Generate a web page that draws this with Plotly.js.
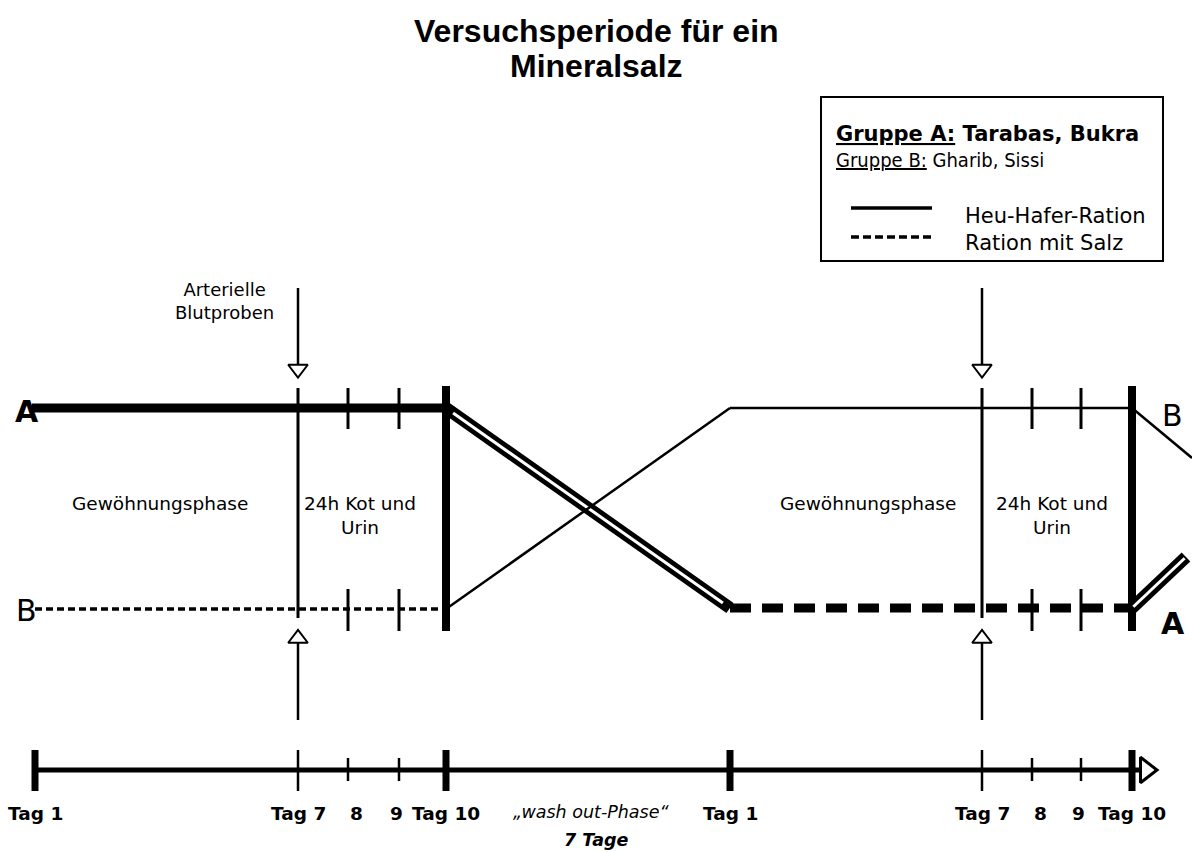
<!DOCTYPE html>
<html><head><meta charset="utf-8">
<script src="https://cdn.plot.ly/plotly-3.0.1.min.js"></script>
<style>html,body{margin:0;padding:0;background:#fff}#chart{width:1192px;height:852px}</style>
</head><body><div id="chart"></div>
<script>
// ---------------- Data (schematic units) ----------------
const dayLabels = ['Tag 1','Tag 7','8','9','Tag 10','Tag 1','Tag 7','8','9','Tag 10'];
const dayPos    = [35, 298, 348, 399, 446, 730, 982, 1032, 1081, 1132];
const dayKind   = ['major','sample','minor','minor','major','major','sample','minor','minor','major'];
const levelHeu  = 408;   // Heu-Hafer-Ration
const levelSalz = 608;   // Ration mit Salz
const timelineY = 770;
const timelineEnd = 1157;

// group paths (segment by segment)
const groupAX = [32, 446, 730, 1132, 1186];
const groupAY = [408, 408, 608, 608, 557];
const groupASeg = ['thick','double','thickdash','double'];
const groupBX = [35, 446, 730, 1132, 1192];
const groupBY = [609, 609, 408, 408, 458];
const groupBSeg = ['thindash','thin','thin','thin'];

const phaseLabels = ['Gewöhnungsphase','24h Kot und<br>Urin','Gewöhnungsphase','24h Kot und<br>Urin'];
const phaseX = [160, 360, 868, 1052];
const phaseY = [503, 515, 503, 515];

const titleLines = ['Versuchsperiode für ein', 'Mineralsalz'];
const washLabel = '„wash out-Phase“';
const washDays  = '7 Tage';

const legendGroups = ['<b><u>Gruppe A:</u> Tarabas, Bukra</b>', '<u>Gruppe B:</u> Gharib, Sissi'];
const legendRations = ['Heu-Hafer-Ration', 'Ration mit Salz'];

// ---------------- Build ----------------
const FONT = "'DejaVu Sans', Verdana, sans-serif";
const FONT_COND = "'DejaVu Sans Condensed', 'DejaVu Sans', sans-serif";
const traces = [];
function seg(xs, ys, w, dash, color) {
  traces.push({type:'scatter', mode:'lines', x:xs, y:ys, hoverinfo:'skip', showlegend:false,
    line:{color:color||'#000', width:w, dash:dash||'solid'}});
}
function mark(x, y, sym, size, lw) {
  traces.push({type:'scatter', mode:'markers', x:[x], y:[y], hoverinfo:'skip', showlegend:false,
    marker:{symbol:sym, size:size, color:'#fff', line:{color:'#000', width:lw}}});
}

// vertical structure in the diagram
dayPos.forEach((p, i) => {
  const k = dayKind[i];
  if (k === 'major' && dayLabels[i] === 'Tag 10') seg([p, p], [levelHeu - 22, levelSalz + 23], 8);
  if (k === 'sample') {
    seg([p, p], [levelHeu - 20, levelSalz + 10], 3);
    // arterial blood sample arrows
    seg([p, p], [288, 366], 2.5);
    mark(p, 369, 'triangle-down', 17, 2);
    seg([p, p], [643, 720], 2.5);
    mark(p, 638.5, 'triangle-up', 17, 2);
  }
  if (k === 'minor') {
    seg([p, p], [levelHeu - 20, levelHeu + 21], 3);
    seg([p, p], [levelSalz - 19, levelSalz + 23], 3);
  }
});

// group paths
function drawGroup(xs, ys, kinds) {
  for (let i = 0; i < kinds.length; i++) {
    const sx = [xs[i], xs[i+1]], sy = [ys[i], ys[i+1]];
    const k = kinds[i];
    if (k === 'thick') seg(sx, sy, 9);
    else if (k === 'thickdash') seg(sx, sy, 9, '21px,11px');
    else if (k === 'thin') seg(sx, sy, 2.5);
    else if (k === 'thindash') seg(sx, sy, 3.5, '7px,4px');
    else if (k === 'double') {
      seg(sx, sy, 12.5);
      const t0 = 0.025, t1 = 0.975;
      seg([sx[0] + (sx[1]-sx[0])*t0, sx[0] + (sx[1]-sx[0])*t1],
          [sy[0] + (sy[1]-sy[0])*t0, sy[0] + (sy[1]-sy[0])*t1], 3, 'solid', '#fff');
    }
  }
}
drawGroup(groupAX, groupAY, groupASeg);
drawGroup(groupBX, groupBY, groupBSeg);

// timeline
seg([dayPos[0], timelineEnd - 16], [timelineY, timelineY], 5);
dayPos.forEach((p, i) => {
  const k = dayKind[i];
  if (k === 'major') seg([p, p], [timelineY - 20, timelineY + 21], 7);
  else if (k === 'sample') seg([p, p], [timelineY - 20, timelineY + 21], 2.5);
  else seg([p, p], [timelineY - 12, timelineY + 11], 2.5);
});
mark(timelineEnd - 11, timelineY, 'triangle-right', 22, 3);

// legend sample lines
seg([851, 932], [208, 208], 3.5);
seg([851, 932], [237, 237], 3.5, '8px,4px');

// ---------------- Annotations ----------------
const ann = [];
function txt(x, y, text, size, opts, family) {
  ann.push(Object.assign({x:x, y:y, xref:'x', yref:'y', text:text, showarrow:false,
    xanchor:'center', yanchor:'middle', align:'center',
    font:{family:family||FONT, size:size, color:'#000'}}, opts||{}));
}
// title (two lines)
titleLines.forEach((t, i) => {
  ann.push({x:596, y:31 + i * 35, xref:'x', yref:'y', text:'<b>' + t + '</b>', showarrow:false,
    xanchor:'center', yanchor:'middle', align:'center',
    font:{family:"'Liberation Sans', Arial, sans-serif", size:32, color:'#000'}});
});

dayLabels.forEach((l, i) => {
  const p = dayPos[i];
  if (l === '8') txt(p + 8, 813, '<b>8</b>', 18.5);
  else if (l === '9') txt(p + 6, 813, '<b>9</b>', 18.5, {xanchor:'right'});
  else txt(p, 813, '<b>' + l + '</b>', 18.5);
});
txt(591, 812, '<i>' + washLabel + '</i>', 17.5);
txt(596, 840, '<b><i>' + washDays + '</i></b>', 17.5);

phaseLabels.forEach((l, i) => txt(phaseX[i], phaseY[i], l, 18.5));
txt(224, 301, 'Arterielle<br>Blutproben', 18);

txt(27, 411, '<b>A</b>', 30);
txt(26, 610, 'B', 30);
txt(1172, 415, 'B', 30);
txt(1173, 623, '<b>A</b>', 30);

txt(834, 134, legendGroups[0], 21, {xanchor:'left'});
txt(834, 160, legendGroups[1], 20, {xanchor:'left'}, FONT_COND);
txt(963, 216, legendRations[0], 21, {xanchor:'left'});
txt(963, 243, legendRations[1], 21, {xanchor:'left'});

const layout = {
  width:1192, height:852,
  margin:{l:0, r:0, t:0, b:0, pad:0},
  paper_bgcolor:'#fff', plot_bgcolor:'#fff',
  xaxis:{range:[0,1192], visible:false, fixedrange:true},
  yaxis:{range:[852,0], visible:false, fixedrange:true},
  shapes:[{type:'rect', xref:'x', yref:'y', x0:821, x1:1163, y0:97, y1:261,
    line:{color:'#000', width:2}, fillcolor:'rgba(0,0,0,0)'}],
  annotations:ann,
  showlegend:false
};
Plotly.newPlot('chart', traces, layout, {displayModeBar:false, staticPlot:true});
</script>
</body></html>
